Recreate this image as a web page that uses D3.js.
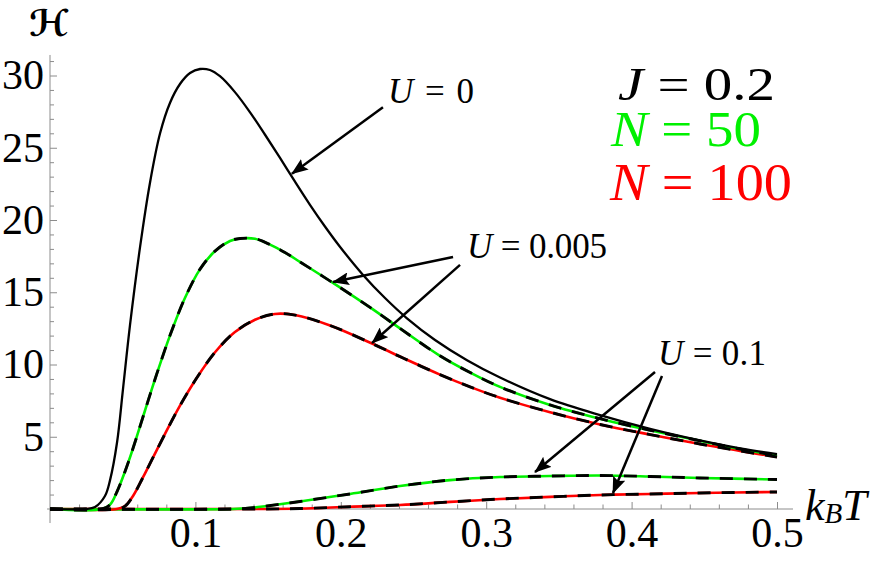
<!DOCTYPE html>
<html>
<head>
<meta charset="utf-8">
<title>H vs kBT</title>
<script src="https://cdnjs.cloudflare.com/ajax/libs/d3/7.8.5/d3.min.js"></script>
<style>
  body { margin: 0; background: #fff; }
  svg { display: block; font-family: "Liberation Serif", "Times New Roman", serif; }
</style>
</head>
<body>
<svg id="chart" width="878" height="561"></svg>
<script>
// values (kBT on x, H on y)
var tU0   = [0, 0.024, 0.031, 0.0378, 0.0413, 0.0461, 0.0502, 0.055, 0.0619, 0.0688, 0.0757, 0.0825, 0.0894, 0.0963, 0.1032, 0.11, 0.1169, 0.1272, 0.1376, 0.1479, 0.1582, 0.1685, 0.1788, 0.1891, 0.1994, 0.2153, 0.2304, 0.2455, 0.2648, 0.2868, 0.3095, 0.3439, 0.3783, 0.4127, 0.447, 0.4746, 0.5];
var hU0   = [0, 0, 0.14, 0.9, 2.0, 4.6, 8.3, 12.7, 18.1, 22.6, 26.0, 28.1, 29.41, 30.17, 30.45, 30.38, 29.95, 28.85, 27.45, 25.9, 24.3, 22.65, 21.05, 19.55, 18.15, 16.2, 14.6, 13.2, 11.7, 10.3, 9.1, 7.6, 6.5, 5.55, 4.75, 4.2, 3.8];

var tA50  = [0, 0.0358, 0.0413, 0.0461, 0.0516, 0.0571, 0.0653, 0.0736, 0.0825, 0.0928, 0.1032, 0.1135, 0.1238, 0.1307, 0.141, 0.1513, 0.1616, 0.1719, 0.1946, 0.2201, 0.2407, 0.2682, 0.2889, 0.3095, 0.3439, 0.3783, 0.4127, 0.447, 0.4746, 0.5];
var hA50  = [0, 0, 0.3, 1.2, 2.6, 4.2, 6.8, 9.4, 12.0, 14.6, 16.6, 17.85, 18.55, 18.72, 18.7, 18.3, 17.75, 17.1, 15.65, 13.95, 12.5, 10.6, 9.45, 8.45, 7.2, 6.25, 5.45, 4.72, 4.15, 3.7];

var tA100 = [0, 0.0461, 0.0516, 0.0571, 0.064, 0.0708, 0.0791, 0.0894, 0.1011, 0.1135, 0.1272, 0.141, 0.1547, 0.1685, 0.1926, 0.2215, 0.2428, 0.2682, 0.2889, 0.3095, 0.3439, 0.3783, 0.4127, 0.447, 0.4746, 0.5];
var hA100 = [0, 0, 0.2, 0.9, 2.2, 3.55, 5.2, 7.15, 9.1, 10.85, 12.25, 13.1, 13.5, 13.42, 12.7, 11.45, 10.45, 9.3, 8.45, 7.7, 6.7, 5.85, 5.15, 4.5, 4.02, 3.6];

var tB50  = [0, 0.1259, 0.1376, 0.1492, 0.1719, 0.2063, 0.2407, 0.2751, 0.3095, 0.3439, 0.3783, 0.4127, 0.447, 0.5];
var hB50  = [0, 0, 0.07, 0.21, 0.52, 1.04, 1.59, 2.0, 2.21, 2.28, 2.32, 2.25, 2.15, 2.04];

var tB100 = [0, 0.1492, 0.1719, 0.2063, 0.2407, 0.2751, 0.3095, 0.3439, 0.3783, 0.4127, 0.447, 0.5];
var hB100 = [0, 0, 0.03, 0.16, 0.28, 0.49, 0.69, 0.84, 0.97, 1.04, 1.11, 1.18];

var xMajor = [0.1, 0.2, 0.3, 0.4, 0.5];
var yMajor = [5, 10, 15, 20, 25, 30];

var svg = d3.select('#chart');
var x = d3.scaleLinear().domain([0, 0.5]).range([50, 777]);
var y = d3.scaleLinear().domain([0, 30]).range([509, 75.5]);

function pts(t, h) {
    return t.map(function (d, i) { return [d, h[i]]; });
}

var line = d3.line()
    .x(function (d) { return x(d[0]); })
    .y(function (d) { return y(Math.max(0, d[1])); })
    .curve(d3.curveCatmullRom.alpha(0.5));

// axes, Mathematica style: ticks pointing inward
var axisColor = '#8c8c8c';
var xMinor = d3.range(1, 26).map(function (i) { return +(i * 0.02).toFixed(2); })
    .filter(function (v) { return xMajor.indexOf(v) < 0; });
var yMinor = d3.range(1, 32).filter(function (v) { return yMajor.indexOf(v) < 0; });

svg.append('line')
    .attr('x1', x(-0.002)).attr('x2', x(0.511))
    .attr('y1', y(0)).attr('y2', y(0))
    .attr('stroke', axisColor).attr('stroke-width', 1);
svg.append('line')
    .attr('x1', x(0)).attr('x2', x(0))
    .attr('y1', y(-0.97)).attr('y2', y(31.42))
    .attr('stroke', axisColor).attr('stroke-width', 1);

var gx = svg.append('g').attr('transform', 'translate(0,' + y(0) + ')');
gx.call(d3.axisBottom(x).tickValues(xMajor).tickSizeInner(-7).tickSizeOuter(0).tickPadding(8).tickFormat(d3.format('.1f')));
gx.append('g').call(d3.axisBottom(x).tickValues(xMinor).tickSizeInner(-4.5).tickSizeOuter(0).tickFormat(''));

var gy = svg.append('g').attr('transform', 'translate(' + x(0) + ',0)');
gy.call(d3.axisLeft(y).tickValues(yMajor).tickSizeInner(-7).tickSizeOuter(0).tickPadding(6));
gy.append('g').call(d3.axisLeft(y).tickValues(yMinor).tickSizeInner(-4).tickSizeOuter(0).tickFormat(''));

svg.selectAll('.domain').remove();
svg.selectAll('.tick line').attr('stroke', axisColor);
svg.selectAll('.tick text')
    .attr('font-family', '"Liberation Serif", "Times New Roman", serif')
    .attr('font-size', 42).attr('fill', '#000');

// curves: coloured solid, black dashed on top, then U = 0 in black
var colored = [
    { d: pts(tB100, hB100), c: '#ff0000' },
    { d: pts(tB50, hB50), c: '#00f000' },
    { d: pts(tA100, hA100), c: '#ff0000' },
    { d: pts(tA50, hA50), c: '#00f000' }
];
var curves = svg.append('g');
curves.selectAll('path.col').data(colored).enter().append('path')
    .attr('class', 'col')
    .attr('d', function (s) { return line(s.d); })
    .attr('fill', 'none').attr('stroke', function (s) { return s.c; })
    .attr('stroke-width', 2.6);
curves.selectAll('path.dash').data(colored).enter().append('path')
    .attr('class', 'dash')
    .attr('d', function (s) { return line(s.d); })
    .attr('fill', 'none').attr('stroke', '#000')
    .attr('stroke-width', 2.9).attr('stroke-dasharray', '13,11');
curves.append('path')
    .attr('d', line(pts(tU0, hU0)))
    .attr('fill', 'none').attr('stroke', '#000').attr('stroke-width', 2.3);

// arrows (data coordinates)
svg.append('defs').append('marker')
    .attr('id', 'head').attr('markerUnits', 'userSpaceOnUse')
    .attr('viewBox', '0 0 17 13').attr('markerWidth', 17).attr('markerHeight', 13)
    .attr('refX', 16).attr('refY', 6.5).attr('orient', 'auto')
    .append('path').attr('d', 'M0,0 L17,6.5 L0,13 L3,6.5 Z').attr('fill', '#000');

var arrows = [
    [[0.229, 27.8], [0.1664, 23.2]],
    [[0.2772, 17.44], [0.1946, 15.71]],
    [[0.282, 16.89], [0.2215, 11.49]],
    [[0.4161, 9.48], [0.3336, 2.56]],
    [[0.4209, 9.20], [0.3872, 1.11]]
];
svg.selectAll('line.arrow').data(arrows).enter().append('line')
    .attr('class', 'arrow')
    .attr('x1', function (a) { return x(a[0][0]); })
    .attr('y1', function (a) { return y(a[0][1]); })
    .attr('x2', function (a) { return x(a[1][0]); })
    .attr('y2', function (a) { return y(a[1][1]); })
    .attr('stroke', '#000').attr('stroke-width', 2.5)
    .attr('marker-end', 'url(#head)');

var notes = [
    { v: '0', at: [0.2325, 28.1], w: 86 },
    { v: '0.005', at: [0.2868, 17.37], w: 140 },
    { v: '0.1', at: [0.4182, 9.97], w: 108 }
];
notes.forEach(function (n) {
    var t = svg.append('text')
        .attr('x', x(n.at[0])).attr('y', y(n.at[1]))
        .attr('font-size', 35).attr('textLength', n.w);
    t.append('tspan').attr('font-style', 'italic').text('U');
    t.append('tspan').text('\u00a0=\u00a0' + n.v);
});

// legend
var legend = [
    { v: 'J', n: '0.2', c: '#000', px: 618, py: 100, fs: 46, w: 157 },
    { v: 'N', n: '50', c: '#00f000', px: 611, py: 146, fs: 50, w: 150 },
    { v: 'N', n: '100', c: '#ff0000', px: 610, py: 200, fs: 53, w: 182 }
];
legend.forEach(function (l) {
    var t = svg.append('text')
        .attr('x', l.px).attr('y', l.py).attr('fill', l.c)
        .attr('font-size', l.fs).attr('textLength', l.w)
        .attr('lengthAdjust', 'spacingAndGlyphs');
    t.append('tspan').attr('font-style', 'italic').text(l.v);
    t.append('tspan').text('\u00a0=\u00a0' + l.n);
});

// axis titles
var xt = svg.append('text').attr('x', 805).attr('y', 520).attr('font-size', 44).attr('font-style', 'italic');
xt.append('tspan').text('k');
xt.append('tspan').attr('font-size', 29).attr('dy', 3).text('B');
xt.append('tspan').attr('dy', -3).text('T');

svg.append('text').attr('x', 49).attr('y', 36)
    .attr('text-anchor', 'middle')
    .attr('font-family', '"DejaVu Serif", "DejaVu Sans", serif')
    .attr('font-weight', 'bold')
    .attr('font-size', 37).text('\u210B');
</script>
</body>
</html>
